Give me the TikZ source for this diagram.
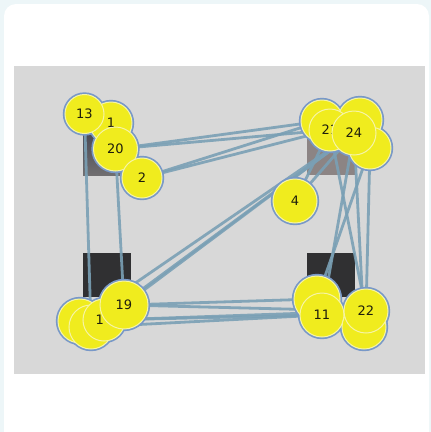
\documentclass[tikz,border=0pt]{standalone}
\usepackage{fontspec}
\newfontfamily\labelfont{DejaVu Sans}
\usetikzlibrary{backgrounds}
\pgfdeclarelayer{edgelayer}
\pgfdeclarelayer{halolayer}
\pgfsetlayers{background,edgelayer,halolayer,main}

\definecolor{pagebg}{RGB}{237,246,248}
\definecolor{panel}{RGB}{216,216,216}
\definecolor{ballfill}{RGB}{240,236,30}
\definecolor{ballring}{RGB}{246,244,165}
\definecolor{ballhalo}{RGB}{120,152,200}
\definecolor{linkcol}{RGB}{122,160,181}
\definecolor{txtcol}{RGB}{30,30,12}
\definecolor{sqdark}{RGB}{48,48,50}
\definecolor{sqtlA}{RGB}{72,72,84}
\definecolor{sqtlB}{RGB}{112,110,112}
\definecolor{sqtr}{RGB}{140,132,132}

\tikzset{
  ball/.style={circle, inner sep=0pt, fill=ballfill, draw=ballring, line width=1pt,
    text=txtcol, font=\labelfont\fontsize{13}{13}\selectfont, minimum size=#1},
  ball/.default=42pt,
  link/.style={draw=linkcol, line width=2.8pt, opacity=0.9},
  halo/.style={fill=ballhalo}
}

\begin{document}
\begin{tikzpicture}[x=1pt,y=-1pt]
\useasboundingbox (0,0) rectangle (431,432);

% page, card and grey panel
\begin{scope}[on background layer]
  \fill[pagebg] (0,0) rectangle (431,432);
  \fill[white, rounded corners=12pt] (4,4) rectangle (429,450);
  \fill[panel] (14,66) rectangle (425,374);
  % the four groups' squares
  \fill[top color=sqtlA, bottom color=sqtlB] (83,131) rectangle (128,175);
  \fill[sqtr] (307,132) rectangle (355,175);
  \fill[sqdark] (83,253) rectangle (131,297);
  \fill[sqdark] (307,253) rectangle (355,297);
\end{scope}

% top-left group
\node[ball=42pt] (n1)  at (111,123) {\raisebox{-4pt}{1}};
\node[ball=39pt] (n13) at (84.5,114) {13};
\node[ball=44pt] (n20) at (115.5,149) {20};
\node[ball=40pt] (n2)  at (142,178) {2};

% top-right group
\node[ball=42pt] (tA)  at (322,121) {};
\node[ball=44pt] (tB)  at (360,120) {};
\node[ball=42pt] (tC)  at (370,148) {};
\node[ball=42pt] (t21) at (330,130) {21};
\node[ball=44pt] (t24) at (354,133) {24};

% free node
\node[ball=44pt] (n4) at (295,201) {4};

% bottom-left group
\node[ball=44pt] (bA)  at (80,321) {};
\node[ball=44pt] (bB)  at (91,327) {};
\node[ball=42pt] (bC)  at (104,320) {1\hphantom{0}};
\node[ball=48pt] (n19) at (124,305) {19};

% bottom-right group
\node[ball=46pt] (rA)  at (317,299) {};
\node[ball=44pt] (n11) at (322,315) {11};
\node[ball=44pt] (rB)  at (364,327) {};
\node[ball=44pt] (n22) at (366,311) {22};

% blue outline behind every ball
\begin{pgfonlayer}{halolayer}
  \foreach \b/\r in {n1/23.2,n13/21.7,n20/24.2,n2/22.2,tA/23.2,tB/24.2,tC/23.2,
                     t21/23.2,t24/24.2,n4/24.2,bA/24.2,bB/24.2,bC/23.2,n19/26.2,
                     rA/25.2,n11/24.2,rB/24.2,n22/24.2}
    \fill[halo] (\b.center) circle (\r);
\end{pgfonlayer}

% connections
\begin{pgfonlayer}{edgelayer}
  % top band
  \draw[link] (n20) -- (tA);
  \draw[link] (n20) -- (t21);
  \draw[link] (n2) -- (tA);
  \draw[link] (n2) -- (t21);
  % left verticals
  \draw[link] (n13) -- (bB);
  \draw[link] (n20) -- (n19);
  % long diagonal
  \draw[link] (bA) -- (t24);
  \draw[link] (n19) -- (t24);
  \draw[link] (bB) -- (t24);
  % node 4
  \draw[link] (n4) -- (t21);
  \draw[link] (n4) -- (t24);
  % right side
  \draw[link] (t24) -- (n11);
  \draw[link] (tC) -- (rA);
  \draw[link] (t21) -- (n22);
  \draw[link] (tC) -- (n22);
  \draw[link] (t24) -- (rB);
  % bottom band
  \draw[link] (n19) -- (rA);
  \draw[link] (bC) -- (n11);
  \draw[link] (n19) -- (n22);
  \draw[link] (bA) -- (n22);
  \draw[link] (bB) -- (n11);
\end{pgfonlayer}
\end{tikzpicture}
\end{document}
